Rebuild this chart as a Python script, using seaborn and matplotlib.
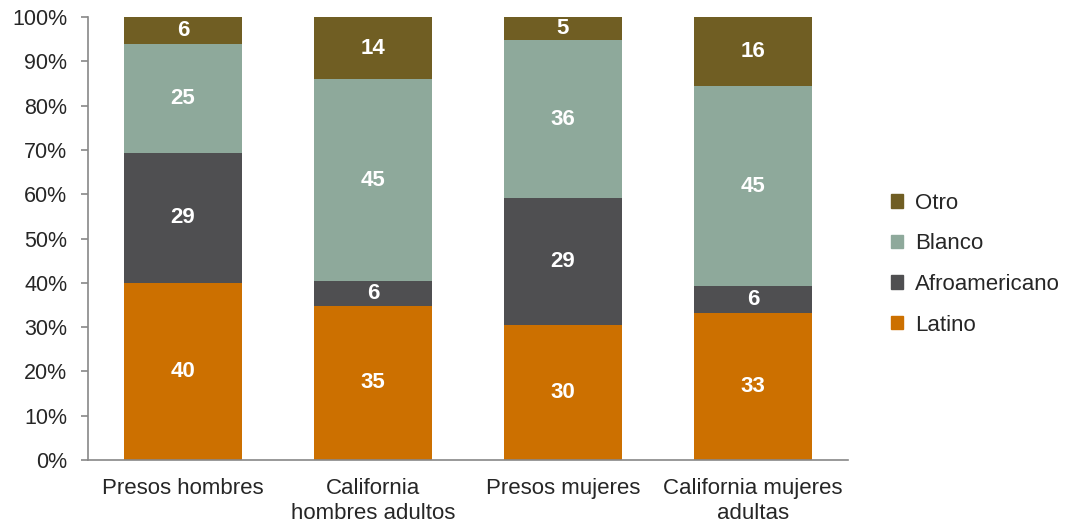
import numpy as np
import pandas as pd
import matplotlib
matplotlib.use("Agg")
import matplotlib.pyplot as plt
import matplotlib.patches as mpatches
import seaborn as sns

# data (percent of each group)
groups = ["Presos hombres", "California\nhombres adultos", "Presos mujeres", "California mujeres\nadultas"]
latino = [40.0, 34.8, 30.5, 33.2]
afro = [29.3, 5.6, 28.6, 6.1]
blanco = [24.6, 45.6, 35.7, 45.1]
otro = [6.1, 14.0, 5.2, 15.6]
labels_latino = [40, 35, 30, 33]
labels_afro = [29, 6, 29, 6]
labels_blanco = [25, 45, 36, 45]
labels_otro = [6, 14, 5, 16]

series = ["Latino", "Afroamericano", "Blanco", "Otro"]
colors = {"Latino": "#CC7000", "Afroamericano": "#4F4F51", "Blanco": "#8EA99B", "Otro": "#705E23"}

df = pd.DataFrame({"grupo": groups, "Latino": latino, "Afroamericano": afro,
                   "Blanco": blanco, "Otro": otro})
cum = df[series].cumsum(axis=1)
cum["grupo"] = groups

sns.set_style("white")
plt.rcParams["font.family"] = ["Liberation Sans", "DejaVu Sans"]

fig = plt.figure(figsize=(10.68, 5.25), dpi=100)
ax = fig.add_axes([0.0824, 0.1238, 0.7116, 0.8438])

# draw cumulative totals from the top layer down so the bars stack
for s in reversed(series):
    sns.barplot(data=cum, x="grupo", y=s, color=colors[s], width=0.62,
                saturation=1, ax=ax, edgecolor="none")

all_labels = {"Latino": labels_latino, "Afroamericano": labels_afro,
              "Blanco": labels_blanco, "Otro": labels_otro}
for s in series:
    prev = cum[s] - df[s]
    for i in range(len(groups)):
        y = prev.iloc[i] + df[s].iloc[i] / 2
        ax.text(i, y, str(all_labels[s][i]), ha="center", va="center",
                color="white", fontsize=16, fontweight="bold")

ax.set_xlim(-0.5, 3.5)
ax.set_ylim(0, 100)
ax.set_yticks(np.arange(0, 101, 10))
ax.set_yticklabels([f"{v}%" for v in range(0, 101, 10)], fontsize=15.5)
ax.set_xticks(range(4))
ax.set_xticklabels(groups, fontsize=16, linespacing=1.25)
ax.set_xticks([-0.5, 0.5, 1.5, 2.5, 3.5], minor=True)
ax.tick_params(axis="x", which="major", length=0, pad=13)
ax.tick_params(axis="x", which="minor", length=5, color="#888888", width=1.2)
ax.tick_params(axis="y", length=5, color="#888888", width=1.2, pad=10, left=True)
ax.set_xlabel("")
ax.set_ylabel("")
for side in ["top", "right"]:
    ax.spines[side].set_visible(False)
for side in ["left", "bottom"]:
    ax.spines[side].set_color("#888888")
    ax.spines[side].set_linewidth(1.2)

handles = [mpatches.Patch(color=colors[s], label=s) for s in reversed(series)]
ax.legend(handles=handles, loc="center left", bbox_to_anchor=(1.03, 0.442),
          frameon=False, fontsize=16, handlelength=0.55, handleheight=0.55,
          handletextpad=0.55, labelspacing=0.88)

fig.savefig("out.png", dpi=100)
